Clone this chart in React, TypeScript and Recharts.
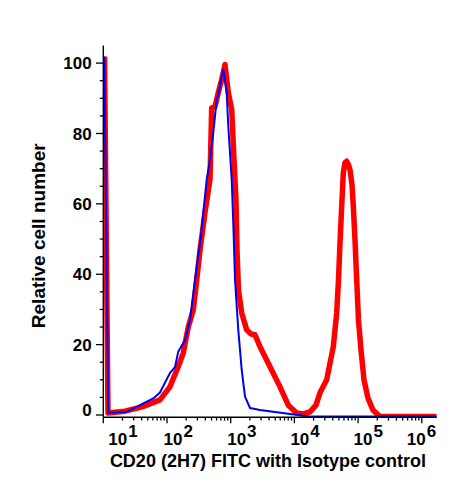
import React from 'react';
import { LineChart, Line, XAxis, YAxis, Customized } from 'recharts';

// Axis ranges (FITC intensity on a log axis, relative count on a linear axis)
const X_MIN = 10;
const X_MAX = 1714000;
const Y_MIN = -0.65;
const Y_MAX = 105;

// CD20 (2H7) FITC stained cells
const stainedIntensity = [
  10.45, 11.85, 21.9, 42.5, 77.6, 111, 150, 180, 216, 259, 293, 330, 395, 473, 503, 567, 638, 722, 814,
  917, 1038, 1127, 1211, 1256, 1325, 1489, 1783, 2083, 2405, 2884, 4140, 5943, 8024, 10870, 13650,
  17580, 21830, 25220, 32140, 40800, 46130, 49230, 52000, 55300, 58600, 62300, 66200, 70600, 74600,
  80200, 84100, 89400, 95100, 101400, 111100, 123800, 143000, 171300, 220800, 1714000,
];
const stainedCount = [
  101.9, 0.6, 1.1, 2.4, 4.3, 8, 13.7, 17.6, 25.1, 29.9, 38.4, 46.9, 57.6, 66.9, 87.3, 87.6, 91.6, 95.3, 99.6,
  91.6, 86.8, 72.5, 61.2, 46.9, 35.6, 29, 24.2, 23, 22.8, 19.4, 13.7, 8, 2.8, 0.6, 0.3,
  0.9, 2.8, 6.3, 10, 19.4, 29, 38.4, 48.9, 59.3, 68.8, 71.7, 72.1, 71.1, 69.7,
  65.4, 59.3, 49.8, 38.4, 27, 18.5, 10, 4.8, 1.4, -0.4, -0.4,
];

// Isotype control
const isotypeIntensity = [
  10.35, 11.98, 23.3, 42.5, 61, 77.6, 111, 134, 150, 192, 230, 275, 342, 420, 473, 533, 603, 638, 722,
  766, 865, 917, 1038, 1107, 1169, 1316, 1489, 1678, 2011, 2884, 4955, 8531, 17580, 1714000,
];
const isotypeCount = [
  101.9, 0.65, 0.9, 3.3, 4.7, 6.4, 11.9, 13.7, 18, 21.3, 27, 38.4, 51.2, 66.9, 72.5, 80.2, 89.6, 91, 96.2,
  98.2, 91.6, 82, 66.9, 52.6, 38.4, 24.2, 12.8, 5.2, 2, 1.4, 0.85, 0.3, -0.4, -0.4,
];

// Tick values and labels
const xDecades = [10, 100, 1000, 10000, 100000, 1000000];
const xDecadeExponents = ['1', '2', '3', '4', '5', '6'];
const xMinorMultipliers = [2, 3, 4, 5, 6, 7, 8, 9];
const yTickValues = [0, 5, 10, 15, 20, 25, 30, 35, 40, 45, 50, 55, 60, 65, 70, 75, 80, 85, 90, 95, 100];
const yLabelStep = 20;

const X_TITLE = 'CD20 (2H7) FITC with Isotype control';
const Y_TITLE = 'Relative cell number';

const FONT = '"Liberation Sans", Arial, Helvetica, sans-serif';
const INK = '#000';

const xTicks = [
  ...xDecades,
  ...xDecades.slice(0, 5).flatMap((d) => xMinorMultipliers.map((m) => m * d)),
].sort((a, b) => a - b);

const stainedData = stainedIntensity.map((x, i) => ({ x, v: stainedCount[i] }));
const isotypeData = isotypeIntensity.map((x, i) => ({ x, v: isotypeCount[i] }));

// horizontal nudges for the decade labels (edge labels pulled inward)
const xLabelShift = [5, -3.5, -3.5, -4, -4.5, -15];

const XTick = (props: any) => {
  const { x, y, payload } = props;
  const idx = xDecades.indexOf(payload.value);
  const major = idx >= 0;
  return (
    <g>
      <line x1={x} y1={y} x2={x} y2={y + (major ? 6 : 3.3)} stroke={INK} strokeWidth={1.3} />
      {major && (
        <text
          x={x + xLabelShift[idx]}
          y={y + 27.7}
          textAnchor="start"
          fontFamily={FONT}
          fontWeight="bold"
          fontSize={17}
          fill={INK}
        >
          10
          <tspan dy={-8.3} dx={1}>
            {xDecadeExponents[idx]}
          </tspan>
        </text>
      )}
    </g>
  );
};

const YTick = (props: any) => {
  const { x, y, payload } = props;
  const v = payload.value;
  const major = v % yLabelStep === 0;
  return (
    <g>
      <line x1={x} y1={y} x2={x - (major ? 7.3 : 3.5)} y2={y} stroke={INK} strokeWidth={1.3} />
      {major && (
        <text
          x={x - 11.6}
          y={y + (v === 0 ? -5 : 0)}
          dy="0.36em"
          textAnchor="end"
          fontFamily={FONT}
          fontWeight="bold"
          fontSize={17}
          fill={INK}
        >
          {v}
        </text>
      )}
    </g>
  );
};

const Titles = () => (
  <g fontFamily={FONT} fontWeight="bold" fill={INK}>
    <text x={267.9} y={466.7} textAnchor="middle" fontSize={18}>
      {X_TITLE}
    </text>
    <text x={45} y={235.8} textAnchor="middle" fontSize={19} transform="rotate(-90 45 235.8)">
      {Y_TITLE}
    </text>
  </g>
);

const frameLine = { stroke: INK, strokeWidth: 1.4 };

export default function App() {
  return (
    <div style={{ position: 'absolute', left: 0, top: 0, width: 457, height: 488, background: '#fff' }}>
      <LineChart width={457} height={488} margin={{ top: 45.5, right: 20.3, bottom: 40.7, left: 43.3 }}>
        <XAxis
          xAxisId="bottom"
          dataKey="x"
          type="number"
          scale="log"
          domain={[X_MIN, X_MAX]}
          allowDataOverflow
          ticks={xTicks}
          interval={0}
          tickSize={0}
          tickMargin={0}
          tickLine={false}
          tick={XTick}
          height={30}
          stroke={INK}
          axisLine={frameLine}
        />
        <XAxis
          xAxisId="top"
          orientation="top"
          dataKey="x"
          type="number"
          scale="log"
          domain={[X_MIN, X_MAX]}
          allowDataOverflow
          height={0}
          tick={false}
          tickLine={false}
          stroke={INK}
          axisLine={frameLine}
        />
        <YAxis
          yAxisId="left"
          type="number"
          domain={[Y_MIN, Y_MAX]}
          allowDataOverflow
          ticks={yTickValues}
          interval={0}
          tickSize={0}
          tickMargin={0}
          tickLine={false}
          tick={YTick}
          width={60}
          stroke={INK}
          axisLine={frameLine}
        />
        <YAxis
          yAxisId="right"
          orientation="right"
          type="number"
          domain={[Y_MIN, Y_MAX]}
          allowDataOverflow
          width={0}
          tick={false}
          tickLine={false}
          stroke={INK}
          axisLine={frameLine}
        />
        <Line
          xAxisId="bottom"
          yAxisId="left"
          data={stainedData}
          dataKey="v"
          type="linear"
          stroke="#ff0000"
          strokeWidth={5.5}
          strokeLinejoin="round"
          dot={false}
          activeDot={false}
          isAnimationActive={false}
        />
        <Line
          xAxisId="bottom"
          yAxisId="left"
          data={isotypeData}
          dataKey="v"
          type="linear"
          stroke="#0000f0"
          strokeWidth={2}
          strokeLinejoin="round"
          dot={false}
          activeDot={false}
          isAnimationActive={false}
        />
        <Customized component={Titles} />
      </LineChart>
    </div>
  );
}
